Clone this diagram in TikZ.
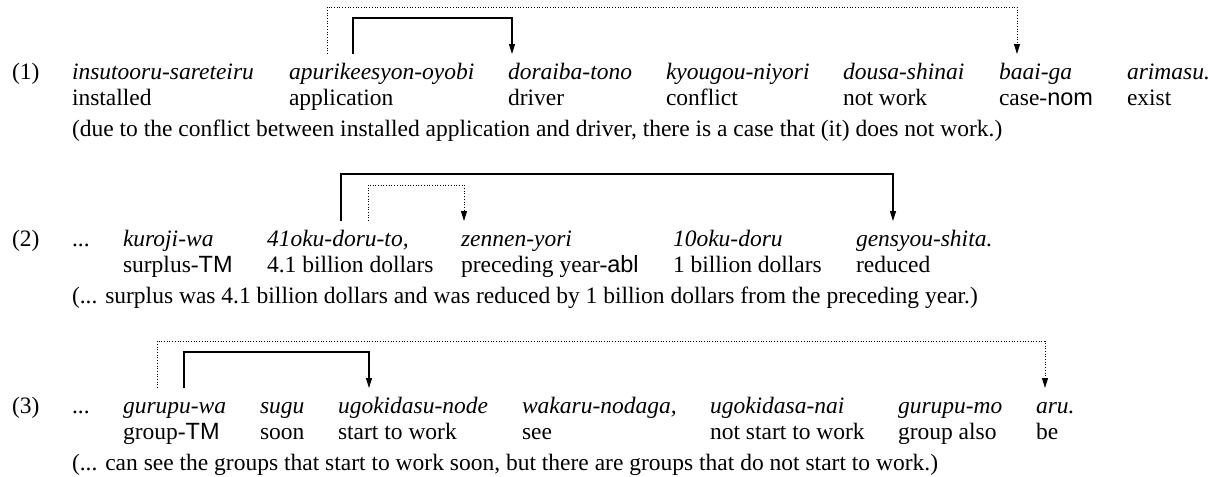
\documentclass[tikz,border=0pt]{standalone}
\usepackage{fontspec}
\setmainfont{Liberation Serif}
\newfontfamily\glsans{Liberation Sans}
\usetikzlibrary{arrows.meta,calc}
\begin{document}
\begin{tikzpicture}[x=0.5pt,y=-0.5pt,
  every node/.style={inner sep=0pt, outer sep=0pt, anchor=base west, font=\fontsize{11.75}{14}\selectfont},
  jw/.style={font=\fontsize{11.75}{14}\selectfont\itshape},
  solidarc/.style={line width=0.6pt, -{Triangle[length=5pt,width=3pt]}},
  dotarc/.style={line width=0.45pt, dash pattern=on 0.45pt off 0.9pt, -{Triangle[length=5pt,width=3pt]}}]
\useasboundingbox (0,0) rectangle (1217,477);
% ---------- example (1)
\node (n1) at (12,79) {(1)};
\node[jw] (a1) at (72,79) {insutooru-sareteiru};
\node[jw] (a2) at (289,79) {apurikeesyon-oyobi};
\node[jw] (a3) at (508,79) {doraiba-tono};
\node[jw] (a4) at (666,79) {kyougou-niyori};
\node[jw] (a5) at (843,79) {dousa-shinai};
\node[jw] (a6) at (999,79) {baai-ga};
\node[jw] (a7) at (1127,79) {arimasu.};
\node (g1) at (72,105) {installed};
\node (g2) at (289,105) {application};
\node (g3) at (508,105) {driver};
\node (g4) at (666,105) {conflict};
\node (g5) at (843,105) {not work};
\node (g6) at (999,105) {case-{\glsans nom}};
\node (g7) at (1127,105) {exist};
\node (t1) at (72,136) {(due to the conflict between installed application and driver, there is a case that (it) does not work.)};
\draw[dotarc] ($(a2.base west)+(38,-25)$) -- ++(0,-47) -| ($(a6.base west)+(18,-25)$);
\draw[solidarc] ($(a2.base west)+(64,-25)$) -- ++(0,-36) -| ($(a3.base west)+(4,-25)$);
% ---------- example (2)
\node (n2) at (12,246) {(2)};
\node (b1) at (72,246) {...};
\node[jw] (b2) at (123,246) {kuroji-wa};
\node[jw] (b3) at (267,246) {41oku-doru-to,};
\node[jw] (b4) at (461,246) {zennen-yori};
\node[jw] (b5) at (673,246) {10oku-doru};
\node[jw] (b6) at (856,246) {gensyou-shita.};
\node (h2) at (123,272) {surplus-{\glsans TM}};
\node (h3) at (267,272) {4.1 billion dollars};
\node (h4) at (461,272) {preceding year-{\glsans abl}};
\node (h5) at (673,272) {1 billion dollars};
\node (h6) at (856,272) {reduced};
\node (t2) at (72,303) {(... surplus was 4.1 billion dollars and was reduced by 1 billion dollars from the preceding year.)};
\draw[solidarc] ($(b3.base west)+(74,-25)$) -- ++(0,-47) -| ($(b6.base west)+(37,-25)$);
\draw[dotarc] ($(b3.base west)+(101,-25)$) -- ++(0,-36) -| ($(b4.base west)+(3,-25)$);
% ---------- example (3)
\node (n3) at (12,413) {(3)};
\node (c1) at (72,413) {...};
\node[jw] (c2) at (123,413) {gurupu-wa};
\node[jw] (c3) at (260,413) {sugu};
\node[jw] (c4) at (338,413) {ugokidasu-node};
\node[jw] (c5) at (522,413) {wakaru-nodaga,};
\node[jw] (c6) at (710,413) {ugokidasa-nai};
\node[jw] (c7) at (898,413) {gurupu-mo};
\node[jw] (c8) at (1036,413) {aru.};
\node (k2) at (123,439) {group-{\glsans TM}};
\node (k3) at (260,439) {soon};
\node (k4) at (338,439) {start to work};
\node (k5) at (522,439) {see};
\node (k6) at (710,439) {not start to work};
\node (k7) at (898,439) {group also};
\node (k8) at (1036,439) {be};
\node (t3) at (72,470) {(... can see the groups that start to work soon, but there are groups that do not start to work.)};
\draw[dotarc] ($(c2.base west)+(34,-25)$) -- ++(0,-47) -| ($(c8.base west)+(9,-25)$);
\draw[solidarc] ($(c2.base west)+(61,-25)$) -- ++(0,-36) -| ($(c4.base west)+(31,-25)$);
\end{tikzpicture}
\end{document}
